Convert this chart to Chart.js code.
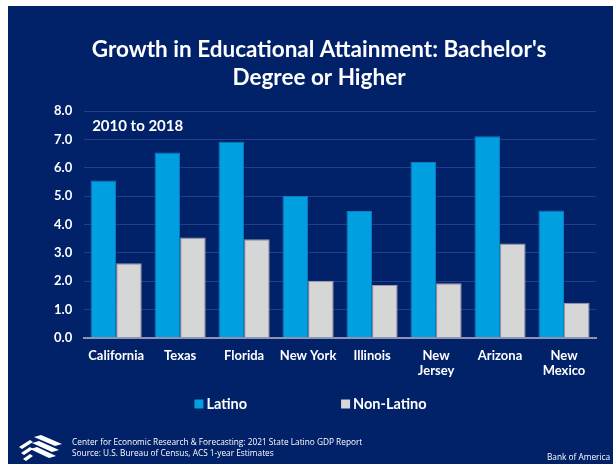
<!DOCTYPE html>
<html>
<head>
<meta charset="utf-8">
<script src="https://cdn.jsdelivr.net/npm/chart.js@4"></script>
<style>
  html, body { margin: 0; padding: 0; background: #fff; }
  #wrap { position: absolute; left: 8px; top: 6px; width: 605px; height: 458px; background: #012169; overflow: hidden; }
  #wrap canvas { position: absolute; left: 0; top: 0; }
  #logo { position: absolute; left: 8px; top: 429px; }
  .foot { position: absolute; color: #fff; font-family: "Open Sans", sans-serif; font-size: 8.3px; white-space: nowrap; }
</style>
</head>
<body>
<div id="wrap">
  <canvas id="eduChart" width="605" height="458"></canvas>
  <svg id="logo" width="48" height="26" viewBox="0 0 48 26">
    <polygon points="18,2 25,0 46,9 39,11" fill="#fff"/>
    <polygon points="16,8 23,6 43,15 36,17" fill="#fff"/>
    <polygon points="14,14 21,12 40,21 33,23" fill="#fff"/>
    <polygon points="3,12 14,5 17,7 6,14" fill="#fff"/>
    <polygon points="5,18 14,12 17,14 8,20" fill="#fff"/>
    <polygon points="7,24 14,19 17,21 10,26" fill="#fff"/>
  </svg>
  <div class="foot" style="left:64px; top:430px; line-height:11px;">Center for Economic Research &amp; Forecasting: 2021 State Latino GDP Report<br>Source: U.S. Bureau of Census, ACS 1-year Estimates</div>
  <div class="foot" style="left:539px; top:445px;">Bank of America</div>
</div>
<script>
// data
const states = ["California", "Texas", "Florida", "New York", "Illinois", ["New", "Jersey"], "Arizona", ["New", "Mexico"]];
const latino = [5.55, 6.54, 6.92, 5.0, 4.47, 6.2, 7.11, 4.49];
const nonLatino = [2.63, 3.54, 3.48, 2.01, 1.86, 1.92, 3.33, 1.24];
const periodLabel = "2010 to 2018";

const FONT = "Lato";

// "2010 to 2018" tag in the top-left of the plot
const periodTag = {
  id: "periodTag",
  afterDraw(chart) {
    const ctx = chart.ctx;
    ctx.save();
    ctx.font = "bold 15px " + FONT;
    ctx.fillStyle = "#fff";
    ctx.textBaseline = "middle";
    ctx.fillText(periodLabel, chart.chartArea.left + 8, chart.chartArea.top + 15);
    ctx.restore();
  }
};

// legend row under the axis labels, wide gap between items
const bottomLegend = {
  id: "bottomLegend",
  afterDraw(chart) {
    const ctx = chart.ctx;
    const sets = chart.data.datasets;
    ctx.save();
    ctx.font = "bold 14.5px " + FONT;
    ctx.textBaseline = "middle";
    const box = 9, gap = 3, spacing = 94;
    const widths = sets.map(d => box + gap + ctx.measureText(d.label).width);
    const total = widths.reduce((a, b) => a + b, 0) + spacing * (sets.length - 1);
    let x = chart.width / 2 - total / 2;
    const y = 398;
    sets.forEach((d, i) => {
      ctx.fillStyle = d.backgroundColor;
      ctx.fillRect(x, y - box / 2, box, box);
      ctx.fillStyle = "#fff";
      ctx.fillText(d.label, x + box + gap, y);
      x += widths[i] + spacing;
    });
    ctx.restore();
  }
};

const ctx = document.getElementById("eduChart").getContext("2d");
new Chart(ctx, {
  type: "bar",
  data: {
    labels: states,
    datasets: [
      {
        label: "Latino",
        data: latino,
        backgroundColor: "#009fdf",
        borderColor: "#0b7fc2",
        borderWidth: 1,
        categoryPercentage: 0.8,
        barPercentage: 1.0
      },
      {
        label: "Non-Latino",
        data: nonLatino,
        backgroundColor: "#d6d6d6",
        borderColor: "#9a9ca8",
        borderWidth: 1,
        categoryPercentage: 0.8,
        barPercentage: 1.0
      }
    ]
  },
  options: {
    responsive: false,
    animation: false,
    layout: { padding: { left: 34, right: 17, bottom: 75 } },
    plugins: {
      legend: { display: false },
      tooltip: { enabled: false },
      title: {
        display: true,
        text: ["Growth in Educational Attainment: Bachelor's", "Degree or Higher"],
        color: "#fff",
        font: { family: FONT, size: 22.5, weight: "bold", lineHeight: 1.245 },
        padding: { top: 30, bottom: 19 }
      }
    },
    scales: {
      x: {
        grid: { display: false, drawTicks: false },
        border: { display: true, color: "#8d94b0", width: 2 },
        ticks: { color: "#fff", font: { family: FONT, size: 13, weight: "bold" }, padding: 10, maxRotation: 0, autoSkip: false }
      },
      y: {
        min: 0,
        max: 8,
        grid: { color: "#243d8c", lineWidth: 1, drawTicks: false },
        border: { display: false },
        ticks: {
          stepSize: 1,
          color: "#fff",
          padding: 12,
          font: { family: FONT, size: 13, weight: "bold" },
          callback: v => v.toFixed(1)
        }
      }
    }
  },
  plugins: [periodTag, bottomLegend]
});
</script>
</body>
</html>
